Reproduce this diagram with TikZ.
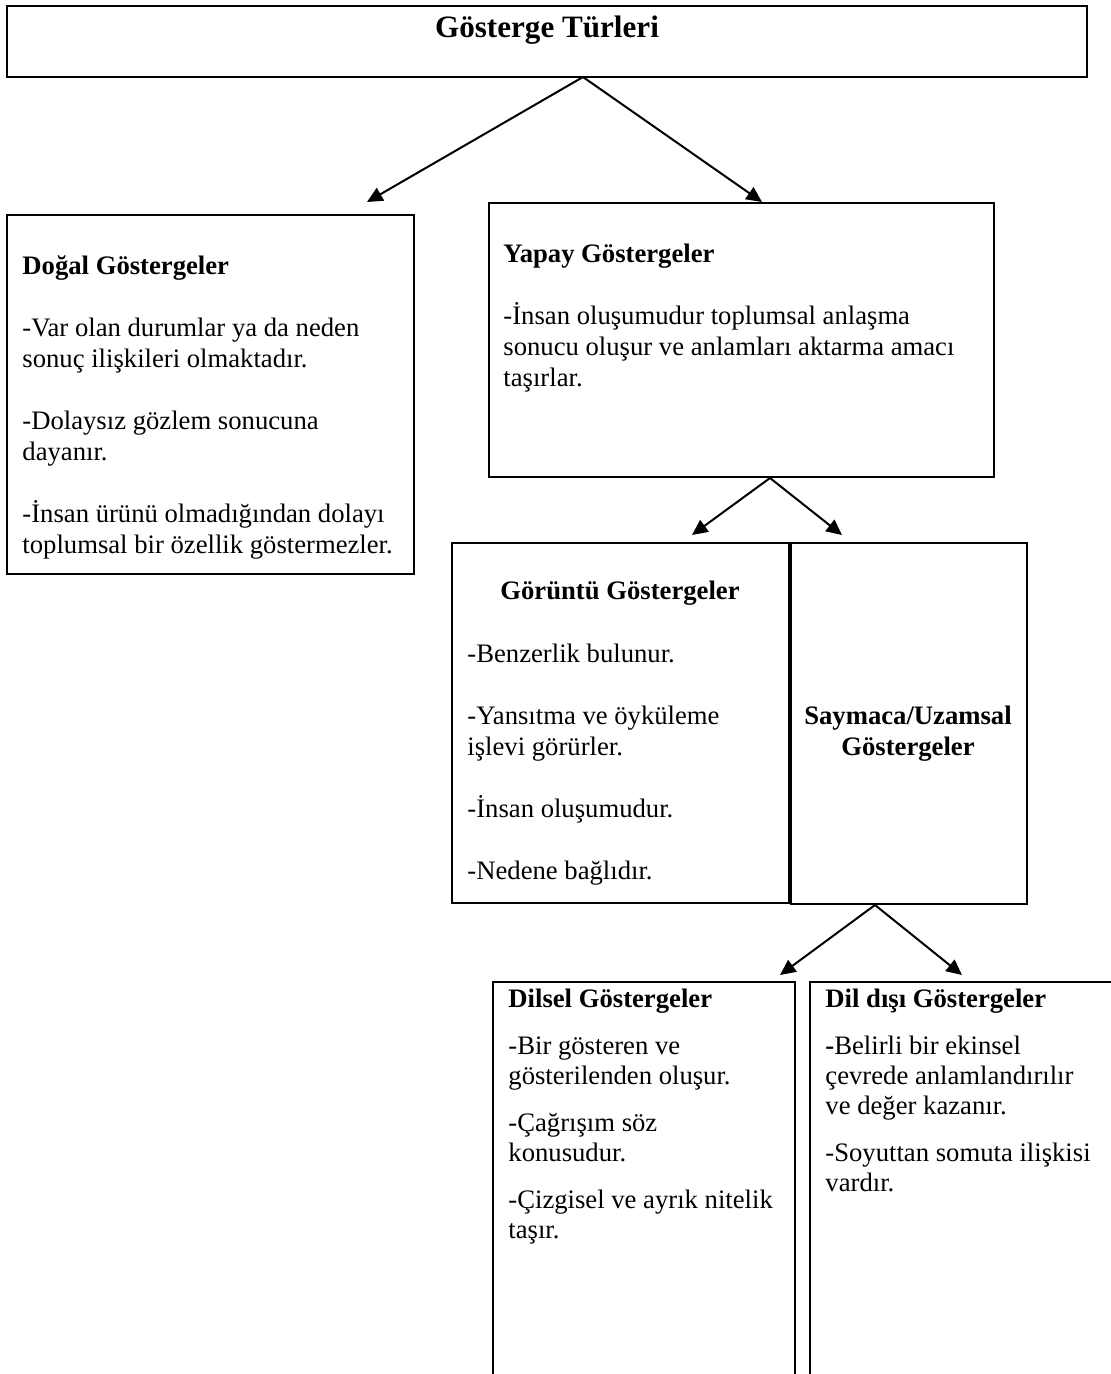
\documentclass[tikz,border=0pt]{standalone}
\usepackage{fontspec}
\setmainfont{Liberation Serif}
\usetikzlibrary{arrows.meta,fit}
\begin{document}
\begin{tikzpicture}[x=0.45pt,y=-0.45pt,
  box/.style={draw, line width=1.2pt, inner sep=0pt},
  conn/.style={line width=0.9pt, -{Triangle[length=7pt,width=6.5pt]}},
  txt/.style={anchor=base west, inner sep=0pt, font=\fontsize{12}{13.95}\selectfont},
  ctxt/.style={anchor=base, inner sep=0pt, font=\fontsize{12}{13.95}\selectfont\bfseries}
]
\useasboundingbox (0,0) rectangle (1111,1374);

% boxes
\node[box, fit={(7,6) (1087,77)}] (top) {};
\node[box, fit={(7,215) (414,574)}] (dogal) {};
\node[box, fit={(489,203) (994,477)}] (yapay) {};
\node[box, fit={(452,543) (789,903)}] (goruntu) {};
\node[box, fit={(791,543) (1027,904)}] (saymaca) {};
\node[box, fit={(493,982) (795,1420)}] (dilsel) {};
\node[box, fit={(810,982) (1140,1420)}] (dildisi) {};

% texts
\node[anchor=base, inner sep=0pt, font=\fontsize{14}{16}\selectfont\bfseries] (ttop) at (547,37) {Gösterge Türleri};

\node[txt] (tdogal) at (22,274) {\parbox[t]{190pt}{\textbf{Doğal Göstergeler}\\[13.95pt]
-Var olan durumlar ya da neden\\
sonuç ilişkileri olmaktadır.\\[13.95pt]
-Dolaysız gözlem sonucuna\\
dayanır.\\[13.95pt]
-İnsan ürünü olmadığından dolayı\\
toplumsal bir özellik göstermezler.}};

\node[txt] (tyapay) at (503,262) {\parbox[t]{220pt}{\textbf{Yapay Göstergeler}\\[13.95pt]
-İnsan oluşumudur toplumsal anlaşma\\
sonucu oluşur ve anlamları aktarma amacı\\
taşırlar.}};

\node[ctxt] (tgor) at (620,599) {Görüntü Göstergeler};
\node[txt] (tgorb) at (467,662) {\parbox[t]{150pt}{-Benzerlik bulunur.\\[13.95pt]
-Yansıtma ve öyküleme\\
işlevi görürler.\\[13.95pt]
-İnsan oluşumudur.\\[13.95pt]
-Nedene bağlıdır.}};

\node[ctxt] (tsay) at (908,724) {\parbox[t]{110pt}{\centering Saymaca/Uzamsal\\ Göstergeler}};

\node[txt] (tdil) at (508,1007) {\parbox[t]{135pt}{\fontsize{12}{13.5}\selectfont\textbf{Dilsel Göstergeler}\\[7.7pt]
-Bir gösteren ve\\
gösterilenden oluşur.\\[7.7pt]
-Çağrışım söz\\
konusudur.\\[7.7pt]
-Çizgisel ve ayrık nitelik\\
taşır.}};

\node[txt] (tdd) at (825,1007) {\parbox[t]{135pt}{\fontsize{12}{13.5}\selectfont\textbf{Dil dışı Göstergeler}\\[7.7pt]
\textbf{-}Belirli bir ekinsel\\
çevrede anlamlandırılır\\
ve değer kazanır.\\[7.7pt]
-Soyuttan somuta ilişkisi\\
vardır.}};

% connectors
\coordinate (ap1) at (583,77);
\coordinate (tipD) at (367,202);
\coordinate (tipY) at (762,202);
\coordinate (ap2) at (770,478);
\coordinate (tipG) at (692,535);
\coordinate (tipS) at (842,535);
\coordinate (ap3) at (875,905);
\coordinate (tipDl) at (780,975);
\coordinate (tipDd) at (962,975);

\draw[conn] (ap1) -- (tipD);
\draw[conn] (ap1) -- (tipY);
\draw[conn] (ap2) -- (tipG);
\draw[conn] (ap2) -- (tipS);
\draw[conn] (ap3) -- (tipDl);
\draw[conn] (ap3) -- (tipDd);
\end{tikzpicture}
\end{document}
